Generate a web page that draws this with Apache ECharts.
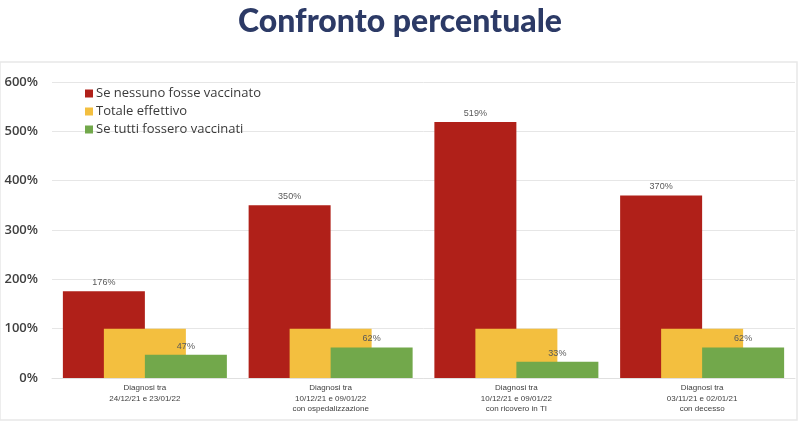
<!DOCTYPE html>
<html><head><meta charset="utf-8">
<script src="https://cdn.jsdelivr.net/npm/echarts@6/dist/echarts.min.js"></script>
<style>html,body{margin:0;padding:0;background:#fff}#c{width:800px;height:424px}</style>
</head><body><div id="c"></div>
<script>
const categories = [
  "Diagnosi tra\n24/12/21 e 23/01/22",
  "Diagnosi tra\n10/12/21 e 09/01/22\ncon ospedalizzazione",
  "Diagnosi tra\n10/12/21 e 09/01/22\ncon ricovero in TI",
  "Diagnosi tra\n03/11/21 e 02/01/21\ncon decesso"
];
const seriesNames = ["Se nessuno fosse vaccinato", "Totale effettivo", "Se tutti fossero vaccinati"];
const nessunoVacc = [176, 350, 519, 370];
const totaleEff = [100, 100, 100, 100];
const tuttiVacc = [47, 62, 33, 62];
const yTicks = [0, 100, 200, 300, 400, 500, 600];

const chart = echarts.init(document.getElementById('c'));
const lbl = {show: true, position: 'top', distance: 4, color: '#595959', fontSize: 9, fontFamily: 'Liberation Sans', formatter: p => p.value + '%'};
chart.setOption({
  animation: false,
  title: {text: 'Confronto percentuale', left: 'center', top: 1,
    textStyle: {fontFamily: 'Lato', fontWeight: 900, fontSize: 32, color: '#2c3a66'}},
  graphic: [{type: 'rect', shape: {x: 0, y: 62, width: 797, height: 358},
    style: {fill: 'none', stroke: '#e8e8e8', lineWidth: 1.5}, z: -1}],
  legend: {orient: 'vertical', left: 80, top: 82, itemWidth: 8, itemHeight: 8, itemGap: 5, icon: 'rect',
    textStyle: {fontFamily: 'Open Sans', fontSize: 13, color: '#3a3a3a', padding: [0,0,0,-2]},
    data: seriesNames},
  grid: {left: 52, right: 5, top: 82, bottom: 46},
  xAxis: {type: 'category', data: categories,
    axisLine: {lineStyle: {color: '#e0e0e0'}}, axisTick: {show: false},
    axisLabel: {fontSize: 8, color: '#404040', fontFamily: 'Liberation Sans', lineHeight: 10.5, margin: 5}},
  yAxis: {type: 'value', min: 0, max: 600, interval: 100,
    axisLabel: {formatter: v => v + '%', fontSize: 13, color: '#404040', fontFamily: 'Open Sans', fontWeight: 600, margin: 14},
    splitLine: {lineStyle: {color: '#e6e6e6'}}, axisLine: {show: false}, axisTick: {show: false}},
  series: [
    {name: seriesNames[0], type: 'bar', data: nessunoVacc, barWidth: 82, barGap: '-50%',
      itemStyle: {color: '#b02019'}, label: lbl},
    {name: seriesNames[1], type: 'bar', data: totaleEff, barWidth: 82, barGap: '-50%',
      itemStyle: {color: '#f3bf3f'}},
    {name: seriesNames[2], type: 'bar', data: tuttiVacc, barWidth: 82, barGap: '-50%',
      itemStyle: {color: '#72a84b'}, label: lbl}
  ]
});
</script></body></html>
